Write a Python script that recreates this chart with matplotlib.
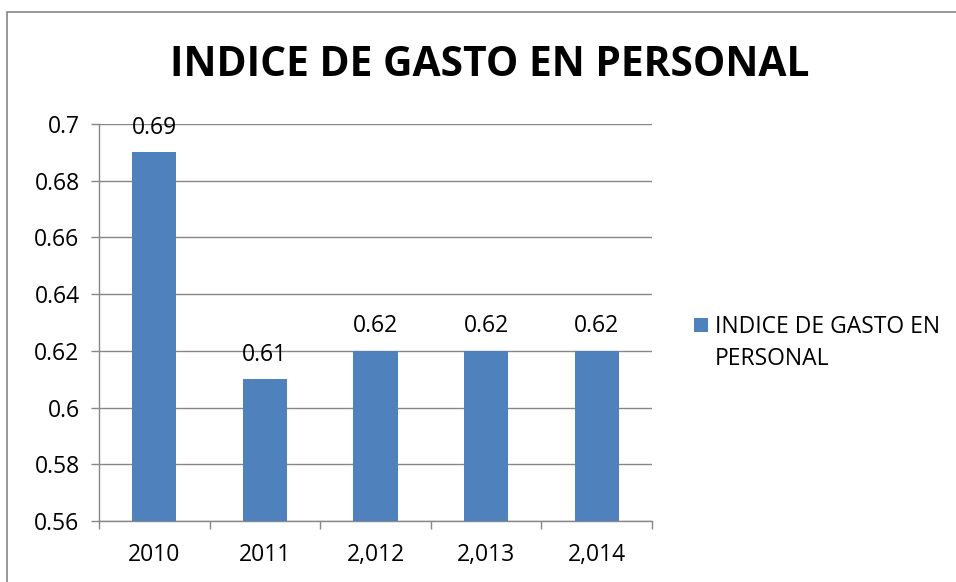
import matplotlib
matplotlib.use("Agg")
import matplotlib.pyplot as plt
from matplotlib.patches import Rectangle

categories = ["2010", "2011", "2,012", "2,013", "2,014"]
values = [0.69, 0.61, 0.62, 0.62, 0.62]
value_labels = ["0.69", "0.61", "0.62", "0.62", "0.62"]
yticks = [0.56, 0.58, 0.60, 0.62, 0.64, 0.66, 0.68, 0.70]
ytick_labels = ["0.56", "0.58", "0.6", "0.62", "0.64", "0.66", "0.68", "0.7"]
title = "INDICE DE GASTO EN PERSONAL"
series_name_lines = ["INDICE DE GASTO EN", "PERSONAL"]

plt.rcParams['font.family'] = ['Open Sans', 'DejaVu Sans']
FS = 16.5
fig = plt.figure(figsize=(9.56, 5.82), dpi=100)
W, H = 956, 582
ax = fig.add_axes([99 / W, 1 - 521 / H, (652 - 99) / W, (521 - 124) / H])

bar_color = "#4F81BD"
grid_color = "#878787"
x = list(range(len(categories)))
bars = ax.bar(x, [v - 0.56 for v in values], bottom=0.56, width=0.4, color=bar_color, zorder=3,
              label=" ".join(series_name_lines))
for xi, v, lab in zip(x, values, value_labels):
    ax.annotate(lab, (xi, v), xytext=(0, 9), textcoords="offset points",
                ha="center", va="bottom", fontsize=FS, color="black", zorder=4,
                annotation_clip=False)

ax.set_ylim(0.56, 0.70)
ax.set_xlim(-0.5, len(categories) - 0.5)
ax.set_yticks(yticks)
ax.set_yticklabels(ytick_labels, fontsize=FS)
ax.yaxis.grid(True, color=grid_color, linewidth=1, zorder=0)
ax.set_xticks(x)
ax.set_xticklabels(categories, fontsize=FS)
ax.tick_params(axis="x", length=0, pad=16)
ax.set_xticks([i - 0.5 for i in range(len(categories) + 1)], minor=True)
ax.tick_params(axis="x", which="minor", length=6, color=grid_color, width=1)
ax.tick_params(axis="y", length=6, color=grid_color, width=1, pad=8)
for s in ["top", "right"]:
    ax.spines[s].set_visible(False)
for s in ["left", "bottom"]:
    ax.spines[s].set_color(grid_color)
    ax.spines[s].set_linewidth(1)

fig.text(490 / W, 1 - 65 / H, title, ha="center", va="center", fontsize=29.3, fontweight="bold")

# Legend: the marker sits beside the first line; the label wraps onto a second line.
leg = fig.legend(handles=[bars], labels=[series_name_lines[0]], loc="center left",
                 bbox_to_anchor=(683 / W, 1 - 327 / H), frameon=False, fontsize=FS,
                 handlelength=0.6, handleheight=0.6, handletextpad=0.3, borderpad=0)
fig.canvas.draw()
ext = leg.get_texts()[0].get_window_extent()
x0 = ext.x0 / W
fig.text(x0, 1 - 359 / H, series_name_lines[1], ha="left", va="center", fontsize=FS)

fig.add_artist(Rectangle((7 / W, -0.1), 1.2, 1 - 12 / H + 0.1, transform=fig.transFigure,
                         fill=False, edgecolor="#868686", linewidth=1.2))

fig.savefig("out.png", dpi=100)
